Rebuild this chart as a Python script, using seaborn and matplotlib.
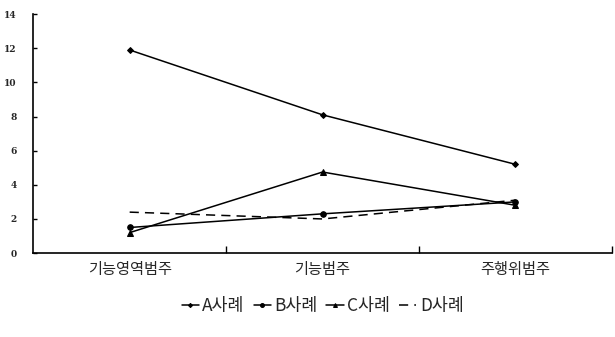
import matplotlib
matplotlib.use("Agg")
import matplotlib.pyplot as plt
import seaborn as sns
import pandas as pd

sns.set_style("white")
plt.rcParams['font.family'] = ['Noto Sans CJK KR', 'DejaVu Sans']

categories = ["기능영역범주", "기능범주", "주행위범주"]
series_names = ["A사례", "B사례", "C사례", "D사례"]
a_vals = [11.9, 8.1, 5.2]
b_vals = [1.5, 2.3, 3.0]
c_vals = [1.2, 4.75, 2.8]
d_vals = [2.4, 2.0, 3.1]
y_ticks = [0, 2, 4, 6, 8, 10, 12, 14]

rows = []
for name, vals in zip(series_names, [a_vals, b_vals, c_vals, d_vals]):
    for cat, v in zip(categories, vals):
        rows.append({"cat": cat, "val": v, "series": name})
df = pd.DataFrame(rows)

fig = plt.figure(figsize=(6.15, 3.37), dpi=100)
ax = fig.add_axes([0.054, 0.249, 0.941, 0.709])

styles = {
    "A사례": dict(marker="D", markersize=3, linestyle="-"),
    "B사례": dict(marker="o", markersize=4, linestyle="-"),
    "C사례": dict(marker="^", markersize=4, linestyle="-"),
    "D사례": dict(marker=None, linestyle=(0, (6, 4))),
}
for name in series_names:
    sub = df[df["series"] == name]
    st = styles[name]
    sns.lineplot(data=sub, x="cat", y="val", ax=ax, color="black", linewidth=1.1,
                 marker=st["marker"], markersize=st.get("markersize", 4),
                 linestyle=st["linestyle"], label=name, sort=False,
                 markeredgecolor="black", markerfacecolor="black")

ax.set_xlim(-0.5, 2.5)
ax.set_ylim(0, 14)
ax.set_yticks(y_ticks)
ax.set_yticklabels([str(t) for t in y_ticks], fontsize=6.5, fontweight="bold", family="DejaVu Serif")
ax.set_xticks(range(len(categories)))
ax.set_xticklabels(categories, fontsize=11)
ax.set_xticks([0.5, 1.5, 2.5], minor=True)
ax.tick_params(axis="x", which="major", bottom=True, length=0, pad=6)
ax.tick_params(axis="x", which="minor", bottom=True, length=5, direction="in", width=1, color="black")
ax.tick_params(axis="y", which="major", left=True, length=3, direction="in", width=1, pad=12, color="black")
ax.set_xlabel("")
ax.set_ylabel("")
for s in ["top", "right"]:
    ax.spines[s].set_visible(False)
for s in ["left", "bottom"]:
    ax.spines[s].set_color("black")
    ax.spines[s].set_linewidth(1.2)

leg = ax.legend(loc="upper center", bbox_to_anchor=(0.5, -0.12), ncol=4, frameon=False,
                fontsize=12.5, handlelength=1.0, handletextpad=0.2, columnspacing=0.5,
                markerscale=0.7)

fig.savefig("out.png", dpi=100)
